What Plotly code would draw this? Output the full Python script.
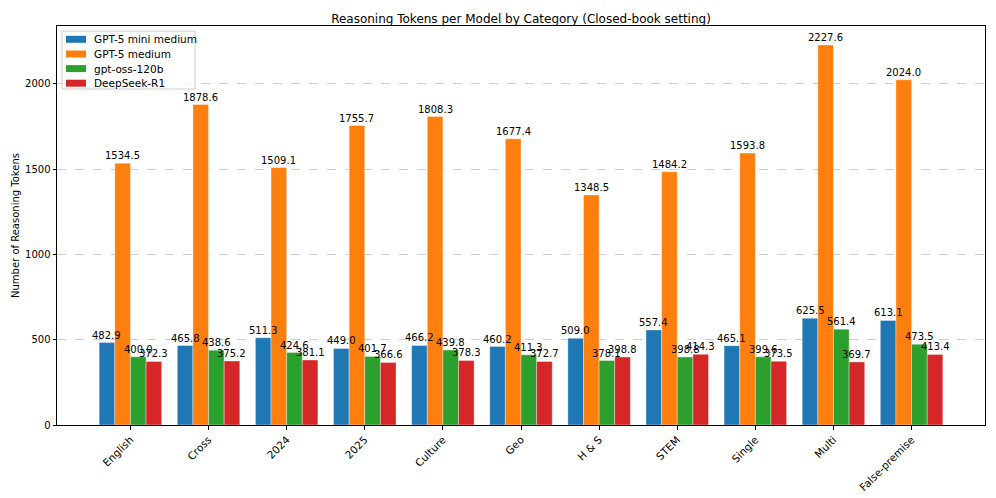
import plotly.graph_objects as go

categories = ["English", "Cross", "2024", "2025", "Culture", "Geo", "H & S",
              "STEM", "Single", "Multi", "False-premise"]
series_names = ["GPT-5 mini medium", "GPT-5 medium", "gpt-oss-120b", "DeepSeek-R1"]
gpt5_mini = [482.9, 465.8, 511.3, 449.0, 466.2, 460.2, 509.0, 557.4, 465.1, 625.5, 613.1]
gpt5 = [1534.5, 1878.6, 1509.1, 1755.7, 1808.3, 1677.4, 1348.5, 1484.2, 1593.8, 2227.6, 2024.0]
gpt_oss = [400.0, 438.6, 424.6, 401.7, 439.8, 411.3, 378.1, 398.8, 399.6, 561.4, 473.5]
deepseek = [372.3, 375.2, 381.1, 366.6, 378.3, 372.7, 398.8, 414.3, 373.5, 369.7, 413.4]
colors = ["#1f77b4", "#ff7f0e", "#2ca02c", "#d62728"]

font = "DejaVu Sans"
W, H = 996, 498
L, R, T, B = 57, 11, 26, 73
pw, ph = W - L - R, H - T - B

def px(x):
    return (x - L) / pw

def py(y):
    return (H - B - y) / ph

bar_w = 0.2
all_series = [gpt5_mini, gpt5, gpt_oss, deepseek]
fig = go.Figure()
annotations = []
for k, (name, vals, c) in enumerate(zip(series_names, all_series, colors)):
    fig.add_trace(go.Bar(
        x=categories, y=vals, name=name,
        marker=dict(color=c, line=dict(color="rgba(255,255,255,0.6)", width=0.6)),
        showlegend=False, hoverinfo="skip",
    ))
    off = (k - 1.5) * bar_w
    for i, v in enumerate(vals):
        annotations.append(dict(
            x=i + off, y=v, xref="x", yref="y", text=f"{v:.1f}",
            showarrow=False, yanchor="bottom", xanchor="center", yshift=0,
            font=dict(family=font, size=10, color="black"),
        ))

# manual matplotlib-style legend (box, swatches, labels)
shapes = [dict(type="rect", xref="paper", yref="paper",
               x0=px(62), x1=px(195), y0=py(89), y1=py(31),
               line=dict(color="#cccccc", width=1), fillcolor="rgba(255,255,255,0.8)",
               layer="above")]
row_y = [39.3, 54.0, 68.6, 83.2]
for name, c, ry in zip(series_names, colors, row_y):
    shapes.append(dict(type="rect", xref="paper", yref="paper",
                       x0=px(66), x1=px(86), y0=py(ry + 3.5), y1=py(ry - 3.5),
                       line=dict(width=0), fillcolor=c, layer="above"))
    annotations.append(dict(x=px(92), y=py(ry), xref="paper", yref="paper",
                            text=name, showarrow=False, xanchor="left", yanchor="middle",
                            font=dict(family=font, size=10.5, color="black")))

fig.update_layout(
    width=W, height=H,
    barmode="group", bargap=0.2, bargroupgap=0,
    plot_bgcolor="white", paper_bgcolor="white",
    margin=dict(l=L, r=R, t=T, b=B),
    font=dict(family=font, size=10, color="black"),
    title=dict(text="Reasoning Tokens per Model by Category (Closed-book setting)",
               x=0.5, xref="paper", xanchor="center", yref="container",
               y=1 - 19 / H, yanchor="middle",
               font=dict(family=font, size=12, color="black")),
    showlegend=False,
    shapes=shapes,
    annotations=annotations,
)
fig.update_xaxes(
    type="category", range=[-0.94, 10.94], automargin=False,
    showline=True, linecolor="black", linewidth=1, mirror=True,
    ticks="outside", ticklen=3.5, tickcolor="black", tickangle=-45,
    showgrid=False, tickfont=dict(family=font, size=10.5),
)
fig.update_yaxes(
    range=[0, 2339], tickvals=[0, 500, 1000, 1500, 2000], automargin=False,
    showline=True, linecolor="black", linewidth=1, mirror=True,
    ticks="outside", ticklen=3.5, tickcolor="black",
    showgrid=True, gridcolor="#cfcfcf", griddash="dash", gridwidth=0.8,
    zeroline=False, tickfont=dict(family=font, size=10),
    title=dict(text="Number of Reasoning Tokens", font=dict(family=font, size=10), standoff=3),
)
fig.write_html("out.html", config={"displayModeBar": False},
               post_script="document.body.style.margin='0';document.body.style.overflow='hidden';")
